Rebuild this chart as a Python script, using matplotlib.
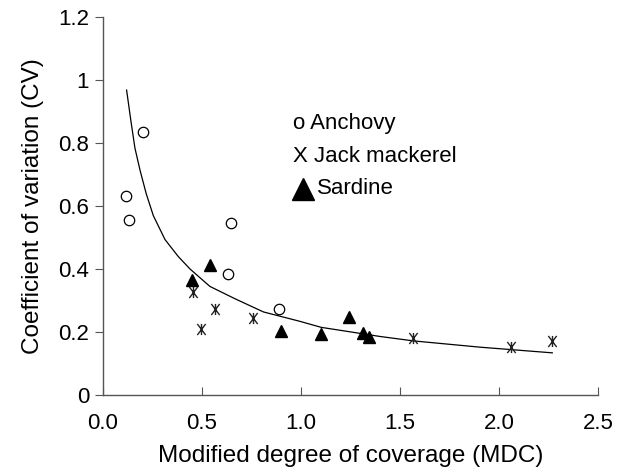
import matplotlib
matplotlib.use("Agg")
import matplotlib.pyplot as plt
from matplotlib.path import Path

plt.rcParams['font.family'] = ['Liberation Sans', 'DejaVu Sans']

# anchovy (open circles)
anchovy_x = [0.118, 0.130, 0.204, 0.630, 0.646, 0.890]
anchovy_y = [0.632, 0.555, 0.836, 0.383, 0.546, 0.273]

# jack mackerel (asterisks)
jack_x = [0.455, 0.493, 0.567, 0.756, 1.567, 2.059, 2.268]
jack_y = [0.327, 0.210, 0.274, 0.244, 0.182, 0.152, 0.171]

# sardine (filled triangles)
sardine_x = [0.449, 0.540, 0.897, 1.103, 1.244, 1.312, 1.345]
sardine_y = [0.364, 0.414, 0.204, 0.194, 0.249, 0.196, 0.184]

# fitted curve
curve_x = [0.119, 0.141, 0.161, 0.187, 0.218, 0.254, 0.313, 0.380, 0.440,
           0.540, 0.666, 0.810, 0.995, 1.102, 1.399, 1.567, 1.904, 2.269]
curve_y = [0.969, 0.870, 0.785, 0.714, 0.640, 0.570, 0.494, 0.440, 0.400,
           0.345, 0.306, 0.264, 0.234, 0.215, 0.186, 0.172, 0.152, 0.134]

xticks = [0.0, 0.5, 1.0, 1.5, 2.0, 2.5]
yticks = [0, 0.2, 0.4, 0.6, 0.8, 1.0, 1.2]
ytick_labels = ['0', '0.2', '0.4', '0.6', '0.8', '1', '1.2']

# X with a vertical bar, like the original marker
star = Path([(0, -1), (0, 1), (-0.75, -1), (0.75, 1), (-0.75, 1), (0.75, -1)],
            [Path.MOVETO, Path.LINETO] * 3)

fig = plt.figure(figsize=(6.29, 4.75), dpi=100)
ax = fig.add_axes([0.1638, 0.1684, 0.787, 0.7950])

ax.plot(curve_x, curve_y, color='black', lw=0.9)
ax.plot(anchovy_x, anchovy_y, 'o', ms=7.5, mfc='white', mec='black', mew=0.9)
ax.plot(jack_x, jack_y, ls='none', marker=star, ms=8, color='#222222', mew=1.0)
ax.plot(sardine_x, sardine_y, '^', ms=8, color='black')

ax.text(0.960, 0.864, 'o Anchovy', fontsize=16, va='center')
ax.text(0.960, 0.758, 'X Jack mackerel', fontsize=16, va='center')
ax.plot([1.012], [0.656], '^', ms=16, color='black', clip_on=False)
ax.text(1.080, 0.656, 'Sardine', fontsize=16, va='center')

ax.set_xlim(0, 2.5)
ax.set_ylim(0, 1.2)
ax.set_xticks(xticks)
ax.set_xticklabels([f'{v:.1f}' for v in xticks])
ax.set_yticks(yticks)
ax.set_yticklabels(ytick_labels)
ax.spines['top'].set_visible(False)
ax.spines['right'].set_visible(False)
for s in ['left', 'bottom']:
    ax.spines[s].set_color('#555555')
    ax.spines[s].set_linewidth(1.0)
ax.tick_params(axis='x', direction='in', length=6, color='#555555', labelsize=16, pad=13)
ax.tick_params(axis='y', direction='out', length=6, color='#555555', labelsize=16, pad=4)

ax.set_xlabel('Modified degree of coverage (MDC)', fontsize=17.5, labelpad=8)
ax.set_ylabel('Coefficient of variation (CV)', fontsize=17.5, labelpad=10)

fig.savefig('out.png', dpi=100)
